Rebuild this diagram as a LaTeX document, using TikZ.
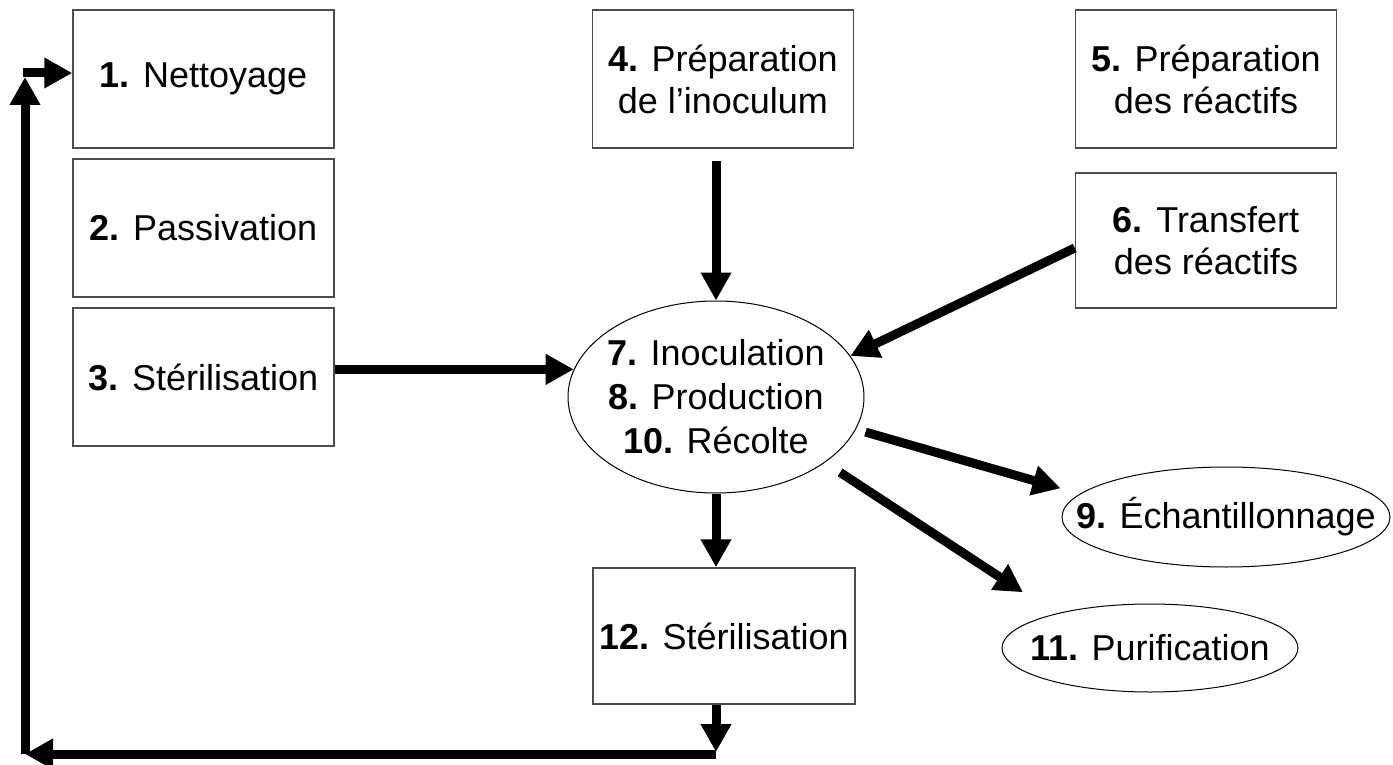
\documentclass[tikz,border=0pt]{standalone}
\usepackage{fontspec}
\setmainfont{Liberation Sans}
\usetikzlibrary{arrows.meta, shapes.geometric}
\newcommand{\narrowline}[1]{\makebox[0pt]{#1}}

\begin{document}
\begin{tikzpicture}[x=0.5pt, y=-0.5pt,
    every node/.style={font=\fontsize{18}{21}\selectfont, align=center},
    stage/.style={draw=black!70, line width=0.75pt, minimum width=130.5pt, minimum height=69pt, inner sep=0pt},
    blob/.style={ellipse, draw, line width=0.5pt, inner sep=0pt},
    flow/.style={line width=4.5pt, -{Triangle[length=14pt, width=14.5pt]}}]
    \useasboundingbox (0,0) rectangle (1393,765);
    % left column
    \node[stage] (clean) at (203.5,79) {\textbf{1.} Nettoyage};
    \node[stage] (passiv) at (203.5,228) {\textbf{2.} Passivation};
    \node[stage] (sterA) at (203.5,377) {\textbf{3.} Stérilisation};
    % preparation
    \node[stage] (inoc) at (723,79) {\textbf{4.} Préparation\\de l’inoculum};
    \node[stage] (prep) at (1206,79) {\textbf{5.} Préparation\\des réactifs};
    \node[stage, minimum height=67.5pt] (transf) at (1206,240.5) {\textbf{6.} Transfert\\des réactifs};
    % central step
    \node[blob, minimum width=148pt, minimum height=96pt, font=\fontsize{18}{22}\selectfont] (core) at (716,397)
        {\narrowline{\textbf{7.} Inoculation}\\\narrowline{\textbf{8.} Production}\\\narrowline{\textbf{10.} Récolte}};
    % outputs
    \node[blob, minimum width=164pt, minimum height=50pt] (sample) at (1226,517) {\narrowline{\textbf{9.} Échantillonnage}};
    \node[blob, minimum width=148pt, minimum height=44pt] (purif) at (1150,648) {\narrowline{\textbf{11.} Purification}};
    \node[stage, minimum width=131pt, minimum height=68pt] (sterB) at (724,636) {\textbf{12.} Stérilisation};
    % arrows into and out of the central step
    \draw[flow, shorten <=6pt] (core.north |- inoc.south) -- (core.north);
    \draw[flow] (sterA.east |- core.169) -- (core.169);
    \draw[flow] ([yshift=-3.75pt]transf.west) -- (core.17);
    \draw[flow, shorten <=5pt, shorten >=10pt] (core.-13) -- (sample.171);
    \draw[flow, shorten <=9pt, shorten >=19.5pt] (core.-31) -- (purif.160);
    \draw[flow] (core.south) -- (core.south |- sterB.north);
    % loop back to cleaning
    \coordinate (turnA) at (716,754);
    \coordinate (turnB) at (25,754);
    \coordinate (turnC) at (25,73);
    \draw[flow, shorten >=1pt] (core.south |- sterB.south) -- (turnA);
    \draw[flow] (turnA) -- (turnB);
    \draw[flow, shorten >=2pt] (turnB) -- (turnC);
    \draw[flow] ([xshift=-1pt]turnC) -- (turnC -| clean.west);
\end{tikzpicture}
\end{document}
